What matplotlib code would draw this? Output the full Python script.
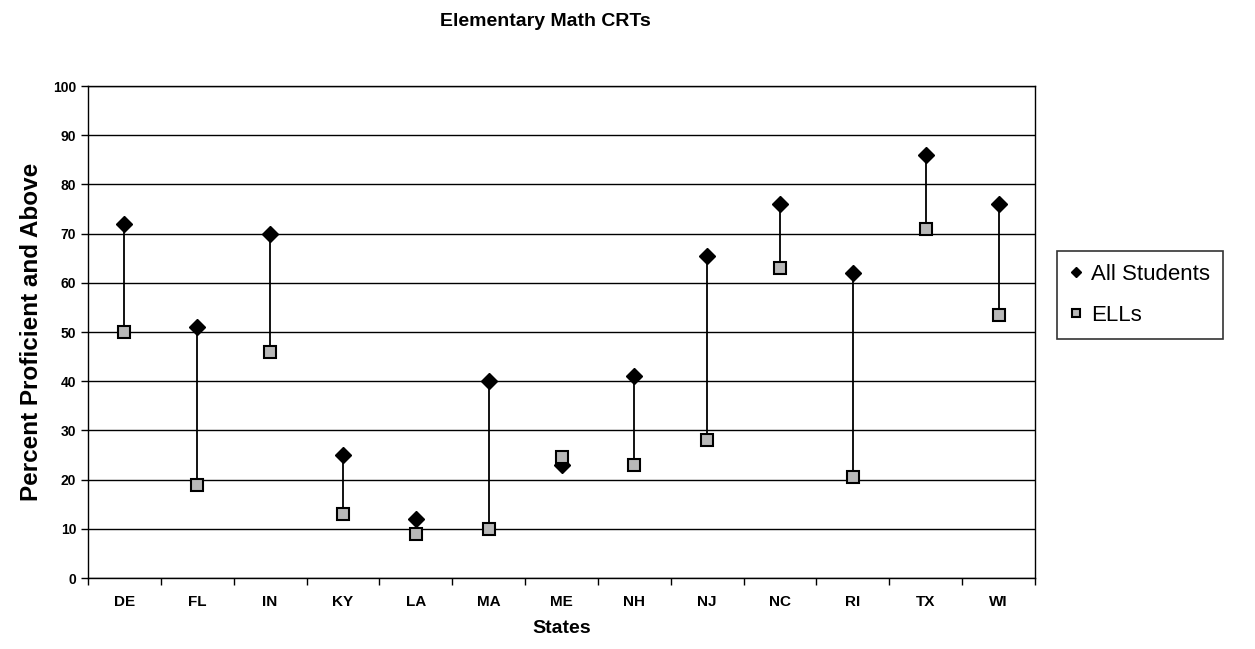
import matplotlib.pyplot as plt
from matplotlib import font_manager

states = ["DE", "FL", "IN", "KY", "LA", "MA", "ME", "NH", "NJ", "NC", "RI", "TX", "WI"]
all_students = [72, 51, 70, 25, 12, 40, 23, 41, 65.5, 76, 62, 86, 76]
ells = [50, 19, 46, 13, 9, 10, 24.5, 23, 28, 63, 20.5, 71, 53.5]

plt.rcParams['font.family'] = ['Liberation Sans', 'DejaVu Sans']
names = {f.name for f in font_manager.fontManager.ttflist}
narrow = 'Liberation Sans Narrow' if 'Liberation Sans Narrow' in names else 'Liberation Sans'

fig = plt.figure(figsize=(12.55, 6.49), dpi=100)
ax = fig.add_axes([88 / 1255, 1 - 578 / 649, 947 / 1255, 492 / 649])

x = list(range(len(states)))
ax.vlines(x, ells, all_students, color='black', lw=1.3, zorder=2)
ax.plot(x, all_students, linestyle='none', marker='D', ms=8, color='black',
        label='All Students', zorder=3)
ax.plot(x, ells, linestyle='none', marker='s', ms=9, markerfacecolor='#b8b8b8',
        markeredgecolor='black', markeredgewidth=1.5, label='ELLs', zorder=3)

ax.set_xlim(-0.5, len(states) - 0.5)
ax.set_ylim(0, 100)
ax.set_yticks(range(0, 101, 10))
ax.set_xticks(x)
ax.set_xticklabels(states, fontsize=11, family=narrow, fontweight='bold')
ax.set_xticks([i - 0.5 for i in range(len(states) + 1)], minor=True)
ax.tick_params(axis='x', which='major', length=0, pad=12)
ax.tick_params(axis='x', which='minor', length=5, direction='out', width=1)
ax.tick_params(axis='y', length=5, direction='out', width=1, labelsize=10)
for lab in ax.get_yticklabels():
    lab.set_fontweight('bold')

ax.grid(axis='y', color='black', lw=1)
ax.set_axisbelow(True)
for s in ax.spines.values():
    s.set_linewidth(1)

ax.set_xlabel("States", fontsize=14, fontweight='bold', labelpad=8)
ax.set_ylabel("Percent Proficient and Above", fontsize=17.5, fontweight='bold')
ax.yaxis.set_label_coords(-0.047, 0.5)
fig.text(545 / 1255, 1 - 22 / 649, "Elementary Math CRTs", fontsize=14,
         fontweight='bold', ha='center', va='center')

leg = ax.legend(loc='center left', bbox_to_anchor=(1.012, 0.575), fontsize=16,
                frameon=True, fancybox=False, edgecolor='black', handlelength=0.5,
                handletextpad=0.4, borderpad=0.6, labelspacing=0.9, markerscale=0.7)
leg.get_frame().set_linewidth(1.2)

fig.savefig("out.png", dpi=100)
